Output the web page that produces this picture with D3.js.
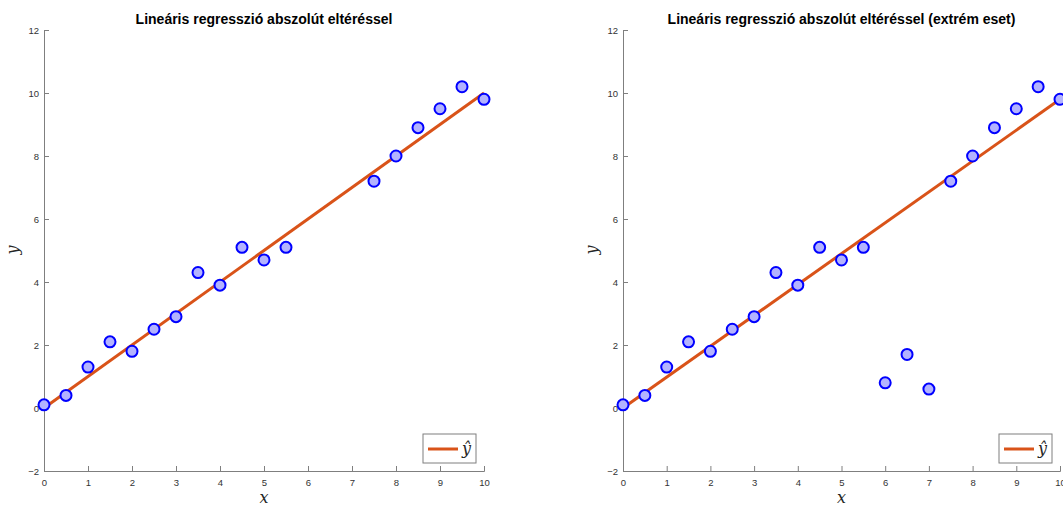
<!DOCTYPE html>
<html>
<head>
<meta charset="utf-8">
<script src="https://cdn.jsdelivr.net/npm/d3@7"></script>
<style>
  body { margin: 0; background: #fff; }
  svg { display: block; }
</style>
</head>
<body>
<div id="chart"></div>
<script>
// data
const xs = [0, 0.5, 1, 1.5, 2, 2.5, 3, 3.5, 4, 4.5, 5, 5.5, 7.5, 8, 8.5, 9, 9.5, 10];
const ys = [0.1, 0.4, 1.3, 2.1, 1.8, 2.5, 2.9, 4.3, 3.9, 5.1, 4.7, 5.1, 7.2, 8.0, 8.9, 9.5, 10.2, 9.8];
const outlierX = [6, 6.5, 7];
const outlierY = [0.8, 1.7, 0.6];
const fitLeft = [[0, 0.0], [10, 10.0]];
const fitRight = [[0, 0.0], [10, 9.8]];
const xTicks = [0, 1, 2, 3, 4, 5, 6, 7, 8, 9, 10];
const yTicks = [-2, 0, 2, 4, 6, 8, 10, 12];
const titles = ["Lineáris regresszió abszolút eltéréssel",
                "Lineáris regresszió abszolút eltéréssel (extrém eset)"];

const W = 1063, H = 506;
const svg = d3.select("#chart").append("svg")
    .attr("width", W)
    .attr("height", H);

function drawPanel(left, right, title, pts, fit) {
    let x = d3.scaleLinear().domain([0, 10]).range([left, right]);
    let y = d3.scaleLinear().domain([-2, 12]).range([471, 30]);
    let g = svg.append("g");

    // axes, ticks inside like matlab
    let xAxis = g.append("g")
        .attr("transform", "translate(0," + y(-2) + ")")
        .call(d3.axisTop(x).tickValues(xTicks).tickSize(5).tickFormat(d3.format("d")));
    xAxis.selectAll("text").attr("dy", null).attr("y", 12).attr("dominant-baseline", "middle");

    let yAxis = g.append("g")
        .attr("transform", "translate(" + x(0) + ",0)")
        .call(d3.axisRight(y).tickValues(yTicks).tickSize(5).tickFormat(d3.format("d")));
    yAxis.selectAll("text").attr("x", -5).attr("text-anchor", "end");

    [xAxis, yAxis].forEach(function(a) {
        a.select(".domain").attr("stroke", "#7f7f7f").attr("stroke-width", 1);
        a.selectAll(".tick line").attr("stroke", "#7f7f7f");
        a.selectAll("text")
            .attr("fill", "#333")
            .attr("font-size", 9.5)
            .attr("font-family", "Liberation Sans, Arial, sans-serif");
    });

    g.append("text")
        .attr("x", (left + right) / 2)
        .attr("y", 24)
        .attr("text-anchor", "middle")
        .attr("font-family", "Liberation Sans, Arial, sans-serif")
        .attr("font-weight", "bold")
        .attr("font-size", 14)
        .attr("fill", "#000")
        .text(title);

    g.append("text")
        .attr("x", (left + right) / 2)
        .attr("y", 503)
        .attr("text-anchor", "middle")
        .attr("font-family", "DejaVu Serif, serif")
        .attr("font-style", "italic")
        .attr("font-size", 16)
        .attr("fill", "#262626")
        .text("x");

    g.append("text")
        .attr("transform", "translate(" + (left - 26) + ",250) rotate(-90)")
        .attr("text-anchor", "middle")
        .attr("font-family", "DejaVu Serif, serif")
        .attr("font-style", "italic")
        .attr("font-size", 16)
        .attr("fill", "#262626")
        .text("y");

    g.append("path")
        .datum(fit)
        .attr("fill", "none")
        .attr("stroke", "#d95319")
        .attr("stroke-width", 3)
        .attr("d", d3.line().x(function(d) { return x(d[0]); }).y(function(d) { return y(d[1]); }));

    g.selectAll(".pt")
        .data(pts)
        .enter()
        .append("circle")
        .attr("class", "pt")
        .attr("cx", function(d) { return x(d[0]); })
        .attr("cy", function(d) { return y(d[1]); })
        .attr("r", 5.5)
        .attr("fill", "#b3b3ff")
        .attr("stroke", "#0000ff")
        .attr("stroke-width", 2);

    // legend
    let lx = x(10) - 61, ly = 434;
    let leg = g.append("g").attr("transform", "translate(" + lx + "," + ly + ")");
    leg.append("rect")
        .attr("width", 53).attr("height", 29)
        .attr("fill", "#fff")
        .attr("stroke", "#7f7f7f")
        .attr("stroke-width", 1);
    leg.append("line")
        .attr("x1", 5).attr("x2", 35)
        .attr("y1", 15).attr("y2", 15)
        .attr("stroke", "#d95319")
        .attr("stroke-width", 3);
    leg.append("text")
        .attr("x", 39).attr("y", 20)
        .attr("font-family", "DejaVu Serif, serif")
        .attr("font-style", "italic")
        .attr("font-size", 16)
        .attr("fill", "#262626")
        .text("ŷ");
}

let leftPts = xs.map(function(v, i) { return [v, ys[i]]; });
let rightPts = leftPts.concat(outlierX.map(function(v, i) { return [v, outlierY[i]]; }));

drawPanel(44, 484, titles[0], leftPts, fitLeft);
drawPanel(623, 1060, titles[1], rightPts, fitRight);
</script>
</body>
</html>
